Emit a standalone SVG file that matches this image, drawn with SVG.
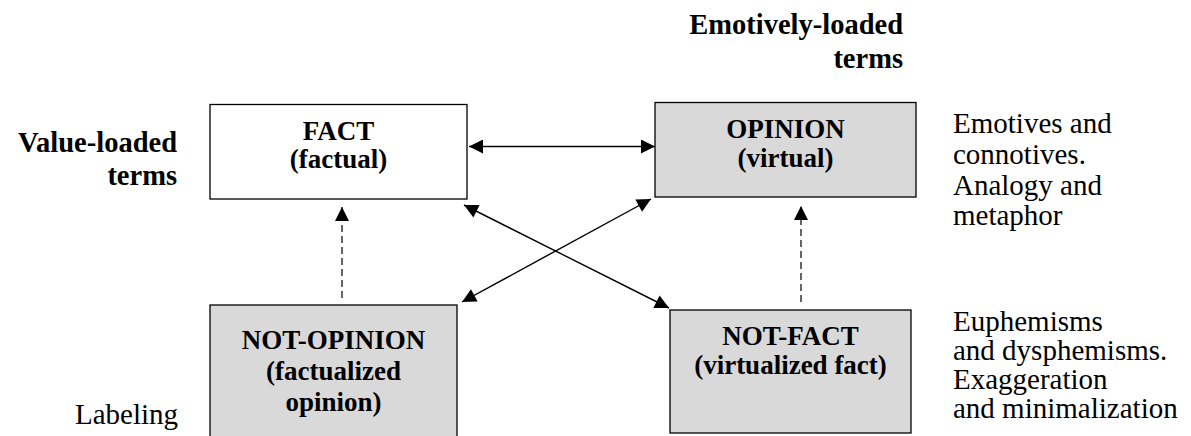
<svg xmlns="http://www.w3.org/2000/svg" width="1191" height="436" viewBox="0 0 1191 436">
<style>
.box{stroke:#000;stroke-width:1.3}
.w{fill:#fff}
.g{fill:#d9d9d9}
.ln{stroke:#000;stroke-width:1.4;fill:none}
.d{stroke-width:1.2;stroke-dasharray:7,4}
</style>
<defs>
<marker id="ah" viewBox="0 0 10 10" refX="10" refY="5" markerWidth="15" markerHeight="14" markerUnits="userSpaceOnUse" orient="auto-start-reverse">
<path d="M0,0 L10,5 L0,10 z" fill="#000"/>
</marker>
</defs>
<rect width="1191" height="436" fill="#fff"/>
<g id="title-emotive">
<text font-family="Liberation Serif" font-weight="bold" font-size="28.5" text-anchor="end" x="903" y="34">Emotively-loaded</text>
<text font-family="Liberation Serif" font-weight="bold" font-size="28.5" text-anchor="end" x="903" y="68">terms</text>
</g>
<g id="title-value">
<text font-family="Liberation Serif" font-weight="bold" font-size="28.5" text-anchor="end" x="177" y="152">Value-loaded</text>
<text font-family="Liberation Serif" font-weight="bold" font-size="28.5" text-anchor="end" x="177" y="185">terms</text>
</g>
<g id="fact">
<rect class="box w" x="210" y="104.5" width="257" height="94.5"/>
<text font-family="Liberation Serif" font-weight="bold" font-size="27" text-anchor="middle" x="338.5" y="140">FACT</text>
<text font-family="Liberation Serif" font-weight="bold" font-size="27" text-anchor="middle" x="338.5" y="168">(factual)</text>
</g>
<g id="opinion">
<rect class="box g" x="655" y="102.5" width="261" height="94.5"/>
<text font-family="Liberation Serif" font-weight="bold" font-size="27" text-anchor="middle" x="785.5" y="138">OPINION</text>
<text font-family="Liberation Serif" font-weight="bold" font-size="27" text-anchor="middle" x="785.5" y="167">(virtual)</text>
</g>
<g id="not-opinion">
<rect class="box g" x="210" y="305" width="247" height="140"/>
<text font-family="Liberation Serif" font-weight="bold" font-size="27" text-anchor="middle" x="333.5" y="349">NOT-OPINION</text>
<text font-family="Liberation Serif" font-weight="bold" font-size="27" text-anchor="middle" x="333.5" y="380">(factualized</text>
<text font-family="Liberation Serif" font-weight="bold" font-size="27" text-anchor="middle" x="333.5" y="411">opinion)</text>
</g>
<g id="not-fact">
<rect class="box g" x="670" y="310" width="241" height="123"/>
<text font-family="Liberation Serif" font-weight="bold" font-size="27" text-anchor="middle" x="790.5" y="345">NOT-FACT</text>
<text font-family="Liberation Serif" font-weight="bold" font-size="27" text-anchor="middle" x="790.5" y="374">(virtualized fact)</text>
</g>
<g id="note-emotives">
<text font-family="Liberation Serif" font-size="29" x="953" y="133">Emotives and</text>
<text font-family="Liberation Serif" font-size="29" x="953" y="164">connotives.</text>
<text font-family="Liberation Serif" font-size="29" x="953" y="195">Analogy and</text>
<text font-family="Liberation Serif" font-size="29" x="953" y="225">metaphor</text>
</g>
<g id="note-euphemisms">
<text font-family="Liberation Serif" font-size="29" x="953" y="331">Euphemisms</text>
<text font-family="Liberation Serif" font-size="29" x="953" y="360">and dysphemisms.</text>
<text font-family="Liberation Serif" font-size="29" x="953" y="389">Exaggeration</text>
<text font-family="Liberation Serif" font-size="29" x="953" y="418">and minimalization</text>
</g>
<g id="note-labeling">
<text font-family="Liberation Serif" font-size="29" x="75" y="424">Labeling</text>
</g>
<g id="connectors">
<line class="ln" x1="469" y1="146.5" x2="655" y2="146.5" marker-start="url(#ah)" marker-end="url(#ah)"/>
<line class="ln" x1="464" y1="205" x2="669" y2="308" marker-start="url(#ah)" marker-end="url(#ah)"/>
<line class="ln" x1="462" y1="302" x2="651" y2="199" marker-start="url(#ah)" marker-end="url(#ah)"/>
<line class="ln d" x1="342" y1="298" x2="342" y2="207" marker-end="url(#ah)"/>
<line class="ln d" x1="801" y1="302" x2="801" y2="206" marker-end="url(#ah)"/>
</g>
</svg>
